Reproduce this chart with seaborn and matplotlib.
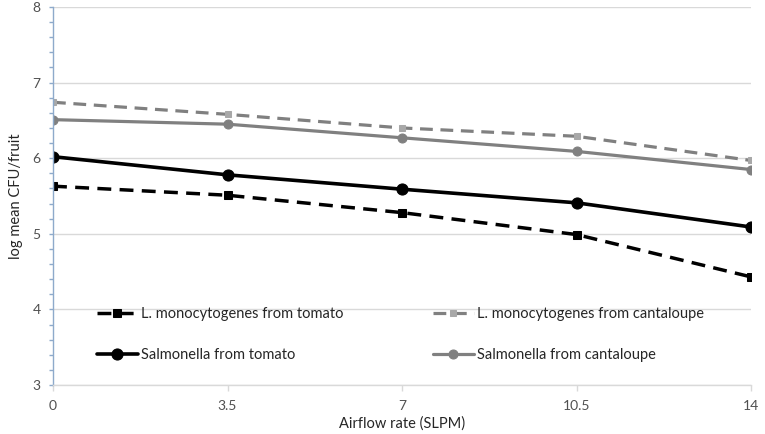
import matplotlib
matplotlib.use('Agg')
import matplotlib.pyplot as plt
import seaborn as sns
import numpy as np
from matplotlib.ticker import MultipleLocator

# airflow rates (SLPM)
airflow = [0, 3.5, 7, 10.5, 14]

# log mean CFU/fruit
lm_tomato = [5.63, 5.51, 5.28, 4.99, 4.43]
lm_cantaloupe = [6.74, 6.58, 6.40, 6.29, 5.97]
sal_tomato = [6.02, 5.78, 5.59, 5.41, 5.09]
sal_cantaloupe = [6.51, 6.45, 6.27, 6.09, 5.85]

labels = ['L. monocytogenes from tomato', 'Salmonella from tomato',
          'L. monocytogenes from cantaloupe', 'Salmonella from cantaloupe']

sns.set_style('white')
plt.rcParams['font.family'] = ['Lato', 'DejaVu Sans']

fig = plt.figure(figsize=(7.65, 4.34), dpi=100)
ax = fig.add_axes([53/765, 1-385/434, (751-53)/765, (385-7)/434])

dash = (0, (4, 2.4))
sns.lineplot(x=airflow, y=lm_tomato, ax=ax, color='black', linestyle=dash, lw=2.5,
             marker='s', markersize=5.5, markeredgecolor='black', label=labels[0])
sns.lineplot(x=airflow, y=sal_tomato, ax=ax, color='black', lw=2.6,
             marker='o', markersize=8, markeredgecolor='black', label=labels[1])
sns.lineplot(x=airflow, y=lm_cantaloupe, ax=ax, color='#808080', linestyle=dash, lw=2.3,
             marker='s', markersize=5, markerfacecolor='#a8a8a8', markeredgecolor='#a8a8a8',
             label=labels[2])
sns.lineplot(x=airflow, y=sal_cantaloupe, ax=ax, color='#808080', lw=2.3,
             marker='o', markersize=6.5, markeredgecolor='#808080', label=labels[3])

ax.set_xlim(0, 14)
ax.set_ylim(3, 8)
ax.set_xticks(airflow)
ax.set_xticklabels(['0', '3.5', '7', '10.5', '14'])
ax.set_yticks([3, 4, 5, 6, 7, 8])
ax.yaxis.set_minor_locator(MultipleLocator(0.2))
ax.grid(axis='y', which='major', color='#d9d9d9', lw=1)
ax.set_axisbelow(True)

for s in ['top', 'right']:
    ax.spines[s].set_visible(False)
ax.spines['left'].set_color('#8eaacb')
ax.spines['left'].set_linewidth(1)
ax.spines['bottom'].set_color('#d9d9d9')
ax.spines['bottom'].set_linewidth(1)

ax.tick_params(axis='y', which='both', direction='out', length=3, width=1,
               color='#8eaacb', left=True, labelsize=10, labelcolor='#505050', pad=6)
ax.tick_params(axis='x', direction='out', length=4, width=1, color='#d9d9d9',
               bottom=True, labelsize=10, labelcolor='#505050', pad=7)

ax.set_xlabel('Airflow rate (SLPM)', fontsize=10.5, color='#262626', labelpad=3)
ax.set_ylabel('log mean CFU/fruit', fontsize=10.5, color='#262626', labelpad=7)

handles, labs = ax.get_legend_handles_labels()
ax.legend(handles, labs, ncol=2, frameon=False, fontsize=10.5,
          loc='upper left', bbox_to_anchor=(97/765, 1-307/434),
          bbox_transform=fig.transFigure, borderpad=0, borderaxespad=0,
          handlelength=2.8, handletextpad=0.25, columnspacing=6.1,
          labelspacing=1.85)

plt.savefig('out.png', dpi=100)
